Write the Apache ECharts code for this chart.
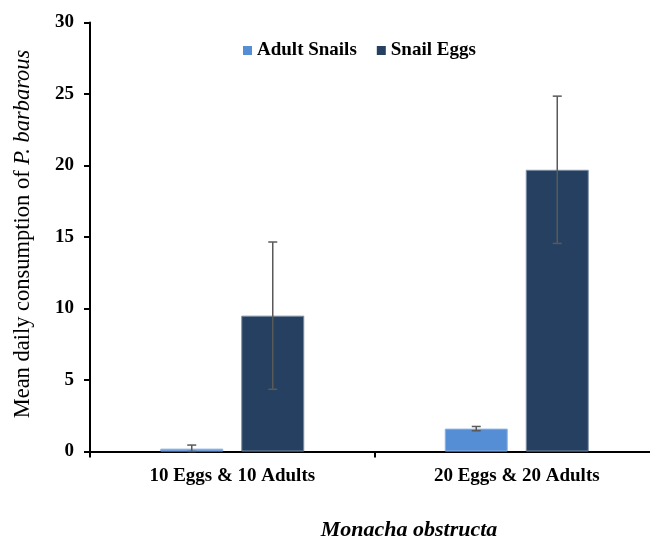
<!DOCTYPE html>
<html>
<head>
<meta charset="utf-8">
<script src="https://cdn.jsdelivr.net/npm/echarts@6/dist/echarts.min.js"></script>
<style>html,body{margin:0;padding:0;background:#fff;overflow:hidden}#c{width:680px;height:542px}</style>
</head>
<body>
<div id="c"></div>
<script>
var categories = ['10 Eggs & 10 Adults', '20 Eggs & 20 Adults'];
var seriesNames = ['Adult Snails', 'Snail Eggs'];
var adultMean = [0.2, 1.6];
var adultErr = [0.25, 0.15];
var eggMean = [9.5, 19.7];
var eggErr = [5.15, 5.15];
var yTicks = [0, 5, 10, 15, 20, 25, 30];

var FONT = "'Liberation Serif', 'Times New Roman', serif";
var BAR_W = 63, BAR_GAP = 18;
var chart = echarts.init(document.getElementById('c'));

function errSeries(name, means, errs, sign) {
  return {
    type: 'custom',
    name: name + ' err',
    z: 5,
    silent: true,
    data: means.map(function (m, i) { return [i, m, errs[i]]; }),
    renderItem: function (params, api) {
      var i = api.value(0), m = api.value(1), e = api.value(2);
      var off = sign * (BAR_W + BAR_GAP) / 2;
      var top = api.coord([i, m + e]);
      var bot = api.coord([i, Math.max(m - e, 0)]);
      var x = top[0] + off;
      var cw = 4.5;
      var st = { stroke: '#595959', lineWidth: 1.5 };
      return {
        type: 'group',
        children: [
          { type: 'line', shape: { x1: x, y1: top[1], x2: x, y2: bot[1] }, style: st },
          { type: 'line', shape: { x1: x - cw, y1: top[1], x2: x + cw, y2: top[1] }, style: st },
          { type: 'line', shape: { x1: x - cw, y1: bot[1], x2: x + cw, y2: bot[1] }, style: st }
        ]
      };
    }
  };
}

chart.setOption({
  animation: false,
  backgroundColor: '#fff',
  grid: { left: 90, top: 22.5, width: 569, height: 429, containLabel: false },
  legend: {
    left: 238, top: 36,
    itemWidth: 9, itemHeight: 9, itemGap: 20,
    icon: 'rect',
    itemStyle: { borderWidth: 0 },
    data: seriesNames,
    textStyle: { fontFamily: FONT, fontWeight: 'bold', fontSize: 19, color: '#000' }
  },
  xAxis: {
    type: 'category',
    data: categories,
    axisLine: { lineStyle: { color: '#000', width: 2 } },
    axisTick: { show: true, length: 6, lineStyle: { color: '#000', width: 2 } },
    axisLabel: { margin: 15, fontFamily: FONT, fontWeight: 'bold', fontSize: 19, color: '#000' }
  },
  yAxis: {
    type: 'value',
    min: 0, max: 30, interval: 5,
    name: '{a|Mean daily consumption of }{b|P. barbarous}',
    nameLocation: 'middle',
    nameGap: 55,
    nameTextStyle: {
      padding: [0, 0, 0, 6],
      rich: {
        a: { fontFamily: FONT, fontSize: 22.5, color: '#000' },
        b: { fontFamily: FONT, fontSize: 22.5, fontStyle: 'italic', color: '#000' }
      }
    },
    splitLine: { show: false },
    axisLine: { show: true, lineStyle: { color: '#000', width: 2 } },
    axisTick: { show: true, length: 6, lineStyle: { color: '#000', width: 2 } },
    axisLabel: {
      margin: 16, fontFamily: FONT, fontWeight: 'bold', fontSize: 19, color: '#000',
      formatter: function (v) { return yTicks.indexOf(v) >= 0 ? String(v) : ''; }
    }
  },
  graphic: [{
    type: 'text',
    x: 409, y: 530,
    style: { text: 'Monacha obstructa', textAlign: 'center', textVerticalAlign: 'middle',
      font: "italic bold 22px 'Liberation Serif', 'Times New Roman', serif", fill: '#000' }
  }],
  series: [
    { type: 'bar', name: seriesNames[0], data: adultMean, barWidth: BAR_W, barGap: (BAR_GAP / BAR_W * 100) + '%',
      itemStyle: { color: '#558ED5', borderColor: '#8fb3e3', borderWidth: 1 } },
    { type: 'bar', name: seriesNames[1], data: eggMean, barWidth: BAR_W,
      itemStyle: { color: '#254061', borderColor: '#7d8ea3', borderWidth: 1 } },
    errSeries(seriesNames[0], adultMean, adultErr, -1),
    errSeries(seriesNames[1], eggMean, eggErr, 1)
  ]
});
</script>
</body>
</html>
